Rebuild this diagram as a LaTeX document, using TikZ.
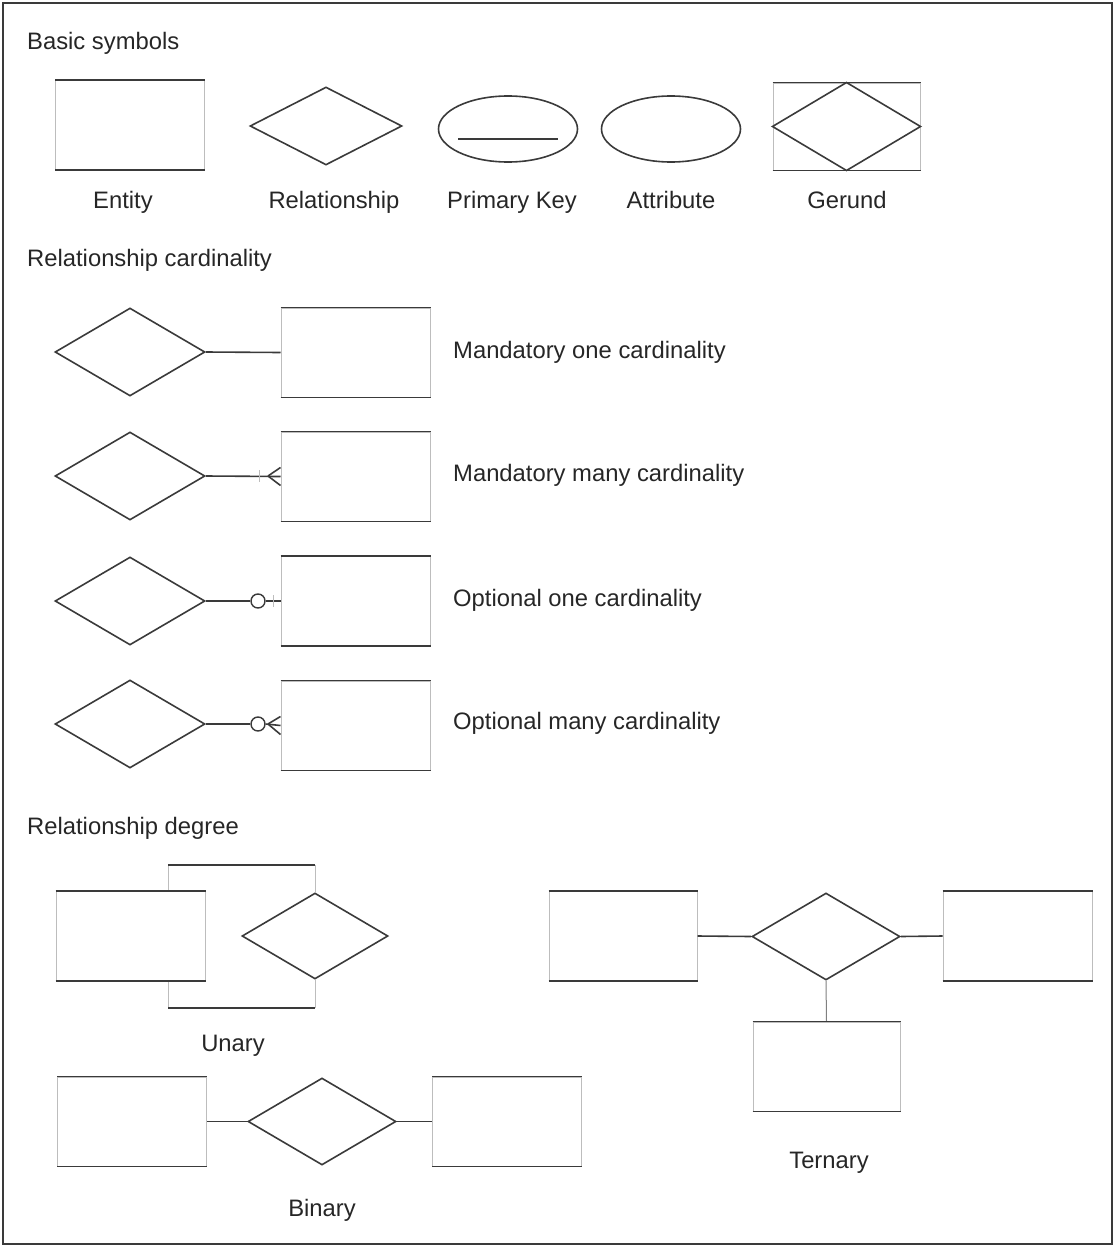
\documentclass[tikz,border=0pt]{standalone}
\usepackage{fontspec}
\setmainfont{Liberation Sans}
\usetikzlibrary{shapes.geometric}
\definecolor{ink}{HTML}{3A3A3A}
\definecolor{faint}{HTML}{BDBDBD}
\definecolor{txt}{HTML}{262626}
\begin{document}
\begin{tikzpicture}[x=1pt,y=-1pt,
  ent/.style={rectangle, draw=faint, line width=1pt, minimum width=149pt, minimum height=89pt, inner sep=0pt},
  rel/.style={diamond, draw=ink, line width=1.6pt, minimum width=150pt, minimum height=88pt, inner sep=0pt},
  attr/.style={ellipse, draw=ink, line width=1.6pt, minimum width=139pt, minimum height=66pt, inner sep=0pt},
  hline/.style={draw=ink, line width=1.9pt},
  vline/.style={draw=faint, line width=1pt},
  conn/.style={draw=ink, line width=1.6pt},
  lbl/.style={text=txt, font=\fontsize{23.8}{28}\selectfont, inner sep=0pt, anchor=base},
  head/.style={lbl, anchor=base west},
  ring/.style={circle, draw=ink, line width=1.4pt, minimum size=14pt, inner sep=0pt}]
\useasboundingbox (0,0) rectangle (1115,1247);
\draw[ink, line width=1.6pt] (3,3) rectangle (1112,1244);

% ---- basic symbols
\node[head] (h1) at (27,50) {Basic symbols};
\node[ent] (e0) at (130,125) {};
\node[rel, minimum width=152pt, minimum height=78pt] (r0) at (326,126) {};
\node[attr] (pk) at (508,129) {};
\coordinate (pka) at (458,139);
\coordinate (pkb) at (558,139);
\draw[conn] (pka) -- (pkb);
\node[attr] (at) at (671,129) {};
\node[ent, minimum width=147pt, minimum height=87pt] (g) at (846.5,126.5) {};
\draw[conn] (g.north) -- (g.east) -- (g.south) -- (g.west) -- cycle;
\node[lbl] (l1) at (123,208) {Entity};
\node[lbl] (l2) at (334,208) {Relationship};
\node[lbl] (l3) at (512,208) {Primary Key};
\node[lbl] (l4) at (671,208) {Attribute};
\node[lbl] (l5) at (847,208) {Gerund};

% ---- relationship cardinality
\node[head] (h2) at (27,266) {Relationship cardinality};

\node[rel] (d1) at (130,352) {};
\node[ent] (e1) at (355.5,352.5) {};
\draw[conn] (d1.east) -- (e1.west);
\node[head] (t1) at (453,358) {Mandatory one cardinality};

\node[rel] (d2) at (130,476) {};
\node[ent] (e2) at (355.5,476.5) {};
\coordinate (c2) at (268,476);
\coordinate (k2) at (259,476);
\draw[conn] (d2.east) -- (e2.west);
\draw[conn] (c2) -- ([yshift=9pt]e2.west);
\draw[conn] (c2) -- ([yshift=-9pt]e2.west);
\draw[vline] ([yshift=6pt]k2) -- ([yshift=-6pt]k2);
\node[head] (t2) at (453,481) {Mandatory many cardinality};

\node[rel] (d3) at (130,601) {};
\node[ent] (e3) at (355.5,601) {};
\node[ring] (o3) at (258,601) {};
\coordinate (k3) at (273,601);
\draw[conn] (d3.east) -- (o3.west);
\draw[conn] (o3.east) -- (e3.west);
\draw[vline] ([yshift=6pt]k3) -- ([yshift=-6pt]k3);
\node[head] (t3) at (453,606) {Optional one cardinality};

\node[rel] (d4) at (130,724) {};
\node[ent] (e4) at (355.5,725.5) {};
\node[ring] (o4) at (258,724) {};
\coordinate (c4) at (268,724);
\draw[conn] (d4.east) -- (o4.west);
\draw[conn] (o4.east) -- (e4.west);
\draw[conn] (c4) -- ([yshift=9pt]e4.west);
\draw[conn] (c4) -- ([yshift=-9pt]e4.west);
\node[head] (t4) at (453,729) {Optional many cardinality};

% ---- relationship degree
\node[head] (h3) at (27,834) {Relationship degree};

% unary
\node[ent] (ue) at (130.5,936) {};
\node[rel, minimum width=146pt, minimum height=86pt] (ud) at (315,936) {};
\coordinate (ux) at (168,0);
\coordinate (ut) at (0,865);
\coordinate (ub) at (0,1008);
\draw[vline] (ue.north -| ux) -- (ux |- ut);
\draw[hline] (ux |- ut) -- (ud.north |- ut);
\draw[vline] (ud.north |- ut) -- (ud.north);
\draw[vline] (ue.south -| ux) -- (ux |- ub);
\draw[hline] (ux |- ub) -- (ud.south |- ub);
\draw[vline] (ud.south |- ub) -- (ud.south);
\node[lbl] (lu) at (233,1051) {Unary};

% binary
\node[ent] (b1) at (132,1121.5) {};
\node[rel, minimum width=148pt, minimum height=87pt] (bd) at (322,1121.5) {};
\node[ent] (b2) at (507,1121.5) {};
\draw[conn] (b1.east) -- (bd.west);
\draw[conn] (bd.east) -- (b2.west);
\node[lbl] (lb) at (322,1216) {Binary};

% ternary
\node[ent, minimum width=148pt] (tl) at (623,936) {};
\node[rel, minimum width=148pt, minimum height=87pt] (td) at (826,936.5) {};
\node[ent] (tr) at (1017.5,936) {};
\node[ent, minimum width=147pt] (tb) at (826.5,1066.5) {};
\draw[conn] (tl.east) -- (td.west);
\draw[conn] (td.east) -- (tr.west);
\draw[vline, draw=gray] (td.south) -- (tb.north);
\node[lbl] (lt) at (829,1168) {Ternary};

% darker top and bottom edges of the entity boxes
\foreach \n in {e0,g,e1,e2,e3,e4,ue,b1,b2,tl,tr,tb}
  \draw[hline] (\n.north west) -- (\n.north east) (\n.south west) -- (\n.south east);
\end{tikzpicture}
\end{document}
